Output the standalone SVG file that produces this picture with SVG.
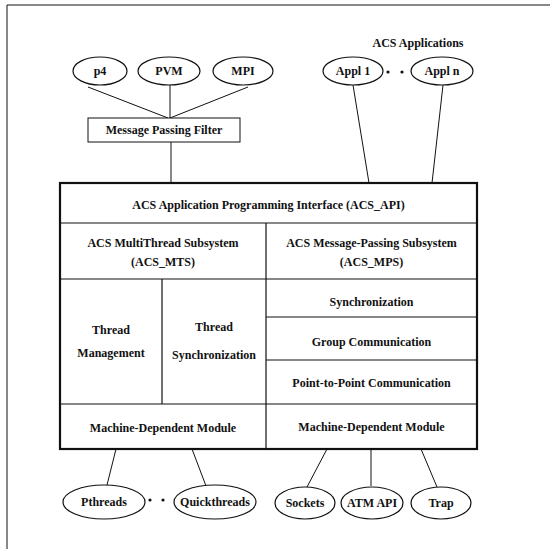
<svg xmlns="http://www.w3.org/2000/svg" width="552" height="549" viewBox="0 0 552 549">
<style>
text{font-family:"Liberation Serif","Times New Roman",serif;font-weight:bold;font-size:12px;fill:#111;text-anchor:middle}
.e{fill:#fff;stroke:#111;stroke-width:1.2}
.c{stroke:#111;stroke-width:1;fill:none}
.in{stroke:#111;stroke-width:1.2;fill:none}
.dot{fill:#111}
</style>
<rect width="552" height="549" fill="#fff"/>
<g id="frame"><path class="c" d="M7 549V5H550" stroke-width="1.3"/></g>
<g id="connectors">
<line class="c" x1="88" y1="87" x2="168" y2="118"/>
<line class="c" x1="170" y1="85" x2="170" y2="118"/>
<line class="c" x1="248" y1="87" x2="170" y2="118"/>
<line class="c" x1="171" y1="142" x2="171" y2="183"/>
<line class="c" x1="353" y1="85" x2="369" y2="183"/>
<line class="c" x1="443" y1="85" x2="432" y2="183"/>
<line class="c" x1="116" y1="449" x2="107" y2="485"/>
<line class="c" x1="192" y1="449" x2="206" y2="486"/>
<line class="c" x1="327" y1="449" x2="307" y2="487"/>
<line class="c" x1="371" y1="449" x2="371" y2="486"/>
<line class="c" x1="421" y1="449" x2="437" y2="487"/>
</g>
<g id="p4"><ellipse class="e" cx="100" cy="71" rx="27" ry="14"/><text x="100" y="75">p4</text></g>
<g id="pvm"><ellipse class="e" cx="169" cy="71" rx="31" ry="14"/><text x="169" y="75">PVM</text></g>
<g id="mpi"><ellipse class="e" cx="243" cy="71" rx="30" ry="14"/><text x="243" y="75">MPI</text></g>
<g id="acs-apps-label"><text x="418" y="47">ACS Applications</text></g>
<g id="appl1"><ellipse class="e" cx="353" cy="71" rx="30" ry="14"/><text x="353" y="75">Appl 1</text></g>
<g id="appl-dots"><circle class="dot" cx="388" cy="72" r="1.6"/><circle class="dot" cx="402" cy="72" r="1.6"/></g>
<g id="appln"><ellipse class="e" cx="442" cy="71" rx="31" ry="14"/><text x="442" y="75">Appl n</text></g>
<g id="filter"><rect x="88" y="118" width="152" height="24" fill="#fff" stroke="#111" stroke-width="1"/><text x="164" y="134" font-size="11.5">Message Passing Filter</text></g>
<g id="acs-main">
<rect x="60" y="183" width="417" height="266" fill="#fff" stroke="#111" stroke-width="2.2"/>
<line class="in" x1="60" y1="223" x2="477" y2="223"/>
<line class="in" x1="60" y1="279" x2="477" y2="279"/>
<line class="in" x1="266" y1="223" x2="266" y2="449"/>
<line class="in" x1="162" y1="279" x2="162" y2="404"/>
<line class="in" x1="266" y1="317" x2="477" y2="317"/>
<line class="in" x1="266" y1="360" x2="477" y2="360"/>
<line class="in" x1="60" y1="404" x2="477" y2="404"/>
</g>
<g id="api"><text x="268.5" y="209">ACS Application Programming Interface (ACS_API)</text></g>
<g id="mts"><text x="163" y="247">ACS MultiThread Subsystem</text><text x="163" y="266">(ACS_MTS)</text></g>
<g id="mps"><text x="371.5" y="247">ACS Message-Passing Subsystem</text><text x="371.5" y="266">(ACS_MPS)</text></g>
<g id="thread-mgmt"><text x="111" y="334">Thread</text><text x="111" y="357">Management</text></g>
<g id="thread-sync"><text x="214" y="331">Thread</text><text x="214" y="359">Synchronization</text></g>
<g id="sync"><text x="371.5" y="306">Synchronization</text></g>
<g id="group"><text x="371.5" y="346">Group Communication</text></g>
<g id="p2p"><text x="371.5" y="387">Point-to-Point Communication</text></g>
<g id="mdm-left"><text x="163" y="432">Machine-Dependent Module</text></g>
<g id="mdm-right"><text x="371.5" y="431">Machine-Dependent Module</text></g>
<g id="pthreads"><ellipse class="e" cx="104" cy="502" rx="41" ry="17"/><text x="104" y="506">Pthreads</text></g>
<g id="thread-dots"><circle class="dot" cx="150" cy="500" r="1.6"/><circle class="dot" cx="163" cy="500" r="1.6"/></g>
<g id="quickthreads"><ellipse class="e" cx="215" cy="502" rx="41" ry="17"/><text x="215" y="506">Quickthreads</text></g>
<g id="sockets"><ellipse class="e" cx="305" cy="503" rx="30" ry="16"/><text x="305" y="507">Sockets</text></g>
<g id="atm"><ellipse class="e" cx="372" cy="503" rx="31" ry="16"/><text x="372" y="507">ATM API</text></g>
<g id="trap"><ellipse class="e" cx="441" cy="503" rx="30" ry="16"/><text x="441" y="507">Trap</text></g>
</svg>
